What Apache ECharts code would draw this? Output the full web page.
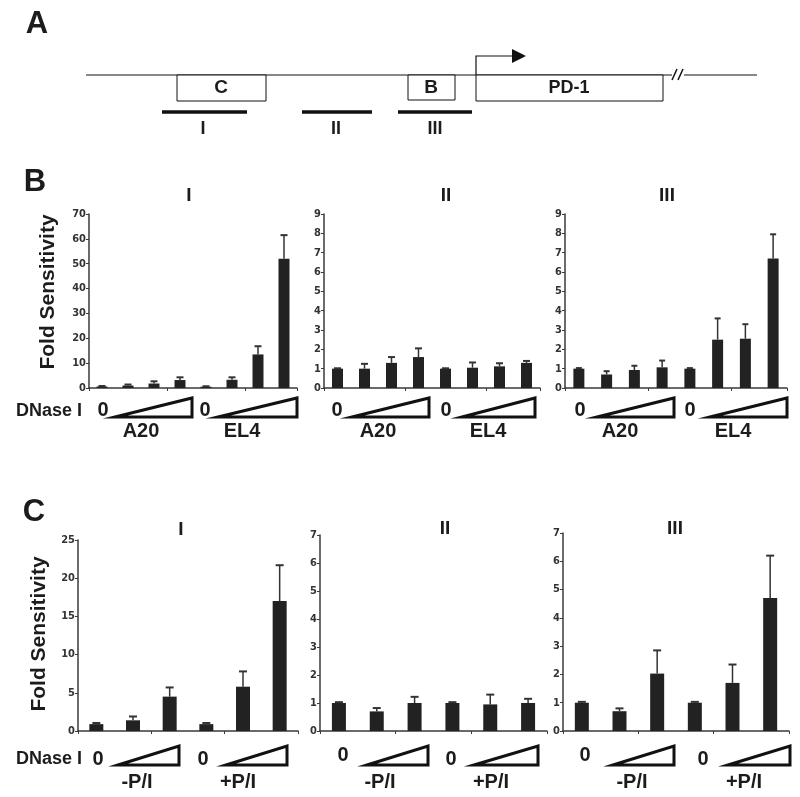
<!DOCTYPE html>
<html>
<head>
<meta charset="utf-8">
<script src="https://cdn.jsdelivr.net/npm/echarts@6/dist/echarts.min.js"></script>
<style>
html,body{margin:0;padding:0;background:#fff;}
#chart{width:800px;height:797px;}
</style>
</head>
<body>
<div id="chart"></div>
<script>
// ---------- data ----------
const panelTitles = ['I', 'II', 'III'];
const catsB = ['A20 0', 'A20 low', 'A20 mid', 'A20 high', 'EL4 0', 'EL4 low', 'EL4 mid', 'EL4 high'];
const catsC = ['-P/I 0', '-P/I low', '-P/I high', '+P/I 0', '+P/I low', '+P/I high'];

const bI_vals = [0.6, 1.0, 1.8, 3.2, 0.5, 3.3, 13.5, 52];
const bI_err  = [0.2, 0.4, 0.9, 1.1, 0.2, 1.0, 3.3, 9.5];
const bII_vals = [1.0, 1.0, 1.3, 1.6, 1.0, 1.05, 1.12, 1.3];
const bII_err  = [0.02, 0.25, 0.3, 0.45, 0.02, 0.27, 0.16, 0.1];
const bIII_vals = [1.0, 0.7, 0.93, 1.07, 1.0, 2.5, 2.55, 6.7];
const bIII_err  = [0.03, 0.17, 0.22, 0.35, 0.03, 1.1, 0.75, 1.25];

const cI_vals = [0.9, 1.4, 4.5, 0.9, 5.8, 17];
const cI_err  = [0.15, 0.5, 1.2, 0.15, 2.0, 4.7];
const cII_vals = [1.0, 0.7, 1.0, 1.0, 0.95, 1.0];
const cII_err  = [0.03, 0.12, 0.22, 0.03, 0.35, 0.15];
const cIII_vals = [1.0, 0.7, 2.03, 1.0, 1.7, 4.7];
const cIII_err  = [0.03, 0.1, 0.82, 0.03, 0.65, 1.5];

const yMaxB = [70, 9, 9];
const yStepB = [10, 1, 1];
const yMaxC = [25, 7, 7];
const yStepC = [5, 1, 1];

const groupLabelsB = ['A20', 'EL4'];
const groupLabelsC = ['-P/I', '+P/I'];
const regionLabels = ['I', 'II', 'III'];

// ---------- layout ----------
const gridsB = [
  {left: 89, top: 214, width: 208, height: 174},
  {left: 324, top: 214, width: 216, height: 174},
  {left: 565, top: 214, width: 222, height: 174}
];
const gridsC = [
  {left: 78, top: 540, width: 220, height: 191},
  {left: 320, top: 535, width: 227, height: 196},
  {left: 563, top: 533, width: 226, height: 198}
];

const INK = '#1c1c1c';
const AX = '#3a3a3a';
const BOLD = 'Liberation Sans, Arial, sans-serif';
const NARROW = "'Liberation Sans Narrow', 'DejaVu Sans Condensed', sans-serif";

const panels = [
  {grid: gridsB[0], cats: catsB, vals: bI_vals, err: bI_err, max: yMaxB[0], step: yStepB[0], bw: 11, cap: 7},
  {grid: gridsB[1], cats: catsB, vals: bII_vals, err: bII_err, max: yMaxB[1], step: yStepB[1], bw: 11, cap: 7},
  {grid: gridsB[2], cats: catsB, vals: bIII_vals, err: bIII_err, max: yMaxB[2], step: yStepB[2], bw: 11, cap: 6},
  {grid: gridsC[0], cats: catsC, vals: cI_vals, err: cI_err, max: yMaxC[0], step: yStepC[0], bw: 14, cap: 8},
  {grid: gridsC[1], cats: catsC, vals: cII_vals, err: cII_err, max: yMaxC[1], step: yStepC[1], bw: 14, cap: 8},
  {grid: gridsC[2], cats: catsC, vals: cIII_vals, err: cIII_err, max: yMaxC[2], step: yStepC[2], bw: 14, cap: 8}
];

function errRender(capW) {
  return function (params, api) {
    const i = api.value(0), v = api.value(1), e = api.value(2);
    const p0 = api.coord([i, v]);
    const p1 = api.coord([i, v + e]);
    return {
      type: 'group',
      children: [
        {type: 'line', shape: {x1: p0[0], y1: p0[1], x2: p1[0], y2: p1[1]}, style: {stroke: '#333', lineWidth: 1.5}},
        {type: 'line', shape: {x1: p1[0] - capW / 2, y1: p1[1], x2: p1[0] + capW / 2, y2: p1[1]}, style: {stroke: '#333', lineWidth: 2}}
      ]
    };
  };
}

const grid = [], xAxis = [], yAxis = [], series = [];
panels.forEach((p, k) => {
  grid.push(Object.assign({containLabel: false}, p.grid));
  xAxis.push({
    type: 'category', gridIndex: k, data: p.cats,
    axisLine: {lineStyle: {color: AX, width: 1.5}},
    axisTick: {show: true, length: 3, lineStyle: {color: AX}},
    axisLabel: {show: false}
  });
  yAxis.push({
    type: 'value', gridIndex: k, min: 0, max: p.max, interval: p.step,
    axisLine: {show: true, lineStyle: {color: AX, width: 1.5}},
    axisTick: {show: true, length: 3, lineStyle: {color: AX}},
    splitLine: {show: false},
    axisLabel: {fontSize: 11, fontWeight: 'bold', color: '#333', margin: 3, fontFamily: NARROW}
  });
  series.push({
    type: 'bar', xAxisIndex: k, yAxisIndex: k, data: p.vals, barWidth: p.bw,
    itemStyle: {color: '#222'}, silent: true
  });
  series.push({
    type: 'custom', xAxisIndex: k, yAxisIndex: k, z: 5, silent: true,
    renderItem: errRender(p.cap),
    encode: {x: 0, y: 1},
    data: p.vals.map((v, i) => [i, v, p.err[i]])
  });
});

// ---------- graphics ----------
function txt(text, x, y, size, opts) {
  opts = opts || {};
  return Object.assign({
    type: 'text', x: x, y: y, silent: true,
    style: {
      text: text, font: 'bold ' + size + 'px ' + (opts.family || BOLD), fill: opts.fill || INK,
      textAlign: 'center', textVerticalAlign: 'middle', align: 'center', verticalAlign: 'middle'
    }
  }, opts.extra || {});
}
function tri(x1, x2, yTop, yBot) {
  return {
    type: 'polygon', silent: true,
    shape: {points: [[x1, yBot], [x2, yTop], [x2, yBot]]},
    style: {fill: '#fff', stroke: '#111', lineWidth: 3, lineJoin: 'miter'}
  };
}
function seg(x1, y1, x2, y2, w) {
  return {type: 'line', silent: true, shape: {x1: x1, y1: y1, x2: x2, y2: y2}, style: {stroke: '#111', lineWidth: w || 1}};
}
function box(x, y, w, h) {
  return {type: 'rect', silent: true, shape: {x: x, y: y, width: w, height: h}, style: {fill: '#fff', stroke: '#111', lineWidth: 1}};
}

const g = [];
// Panel A schematic
g.push(seg(86, 75, 672, 75, 1));
g.push(seg(684, 75, 757, 75, 1));
g.push(seg(672, 80, 677, 69, 1.5));
g.push(seg(678, 80, 683, 69, 1.5));
g.push(box(177, 75, 89, 26));
g.push(box(408, 75, 47, 25));
g.push(box(476, 75, 187, 26));
g.push(txt('C', 221, 88, 19));
g.push(txt('B', 431, 88, 19));
g.push(txt('PD-1', 569, 88, 18));
g.push({type: 'polyline', silent: true, shape: {points: [[476, 75], [476, 56], [514, 56]]}, style: {stroke: '#111', lineWidth: 1.2, fill: null}});
g.push({type: 'polygon', silent: true, shape: {points: [[512, 49], [526, 56], [512, 63]]}, style: {fill: '#111'}});
g.push(seg(162, 112, 247, 112, 3.5));
g.push(seg(302, 112, 372, 112, 3.5));
g.push(seg(398, 112, 472, 112, 3.5));
g.push(txt(regionLabels[0], 203, 129, 18));
g.push(txt(regionLabels[1], 336, 129, 18));
g.push(txt(regionLabels[2], 435, 129, 18));

// Panel letters
g.push(txt('A', 37, 24, 31));
g.push(txt('B', 35, 182, 31));
g.push(txt('C', 34, 512, 31));

// Panel titles
g.push(txt(panelTitles[0], 189, 196, 19));
g.push(txt(panelTitles[1], 446, 196, 19));
g.push(txt(panelTitles[2], 667, 196, 19));
g.push(txt(panelTitles[0], 181, 530, 19));
g.push(txt(panelTitles[1], 445, 529, 19));
g.push(txt(panelTitles[2], 675, 529, 19));

// Y titles
g.push(txt('Fold Sensitivity', 48, 292, 21, {extra: {rotation: Math.PI / 2}}));
g.push(txt('Fold Sensitivity', 39, 634, 21, {extra: {rotation: Math.PI / 2}}));

// Row B DNase labels
g.push(txt('DNase I', 49, 411, 18));
[[103, 115, 192], [205, 218, 297], [337, 352, 429], [446, 462, 535], [580, 597, 674], [690, 710, 787]].forEach(a => {
  g.push(txt('0', a[0], 410, 20));
  g.push(tri(a[1], a[2], 398, 417));
});
[[141, 431], [242, 431], [378, 431], [488, 431], [620, 431], [733, 431]].forEach((a, i) => {
  g.push(txt(groupLabelsB[i % 2], a[0], a[1], 20));
});

// Row C DNase labels
g.push(txt('DNase I', 49, 759, 18));
[[98, 118, 179, 759], [203, 226, 287, 759], [343, 367, 428, 755], [451, 474, 538, 759], [585, 613, 674, 755], [703, 728, 790, 759]].forEach(a => {
  g.push(txt('0', a[0], a[3], 20));
  g.push(tri(a[1], a[2], 746, 765));
});
[[137, 782], [238, 782], [380, 782], [491, 782], [632, 782], [744, 782]].forEach((a, i) => {
  g.push(txt(groupLabelsC[i % 2], a[0], a[1], 20));
});

const chart = echarts.init(document.getElementById('chart'), null, {renderer: 'canvas'});
chart.setOption({
  animation: false,
  backgroundColor: '#fff',
  grid: grid, xAxis: xAxis, yAxis: yAxis, series: series,
  graphic: {elements: g}
});
</script>
</body>
</html>
